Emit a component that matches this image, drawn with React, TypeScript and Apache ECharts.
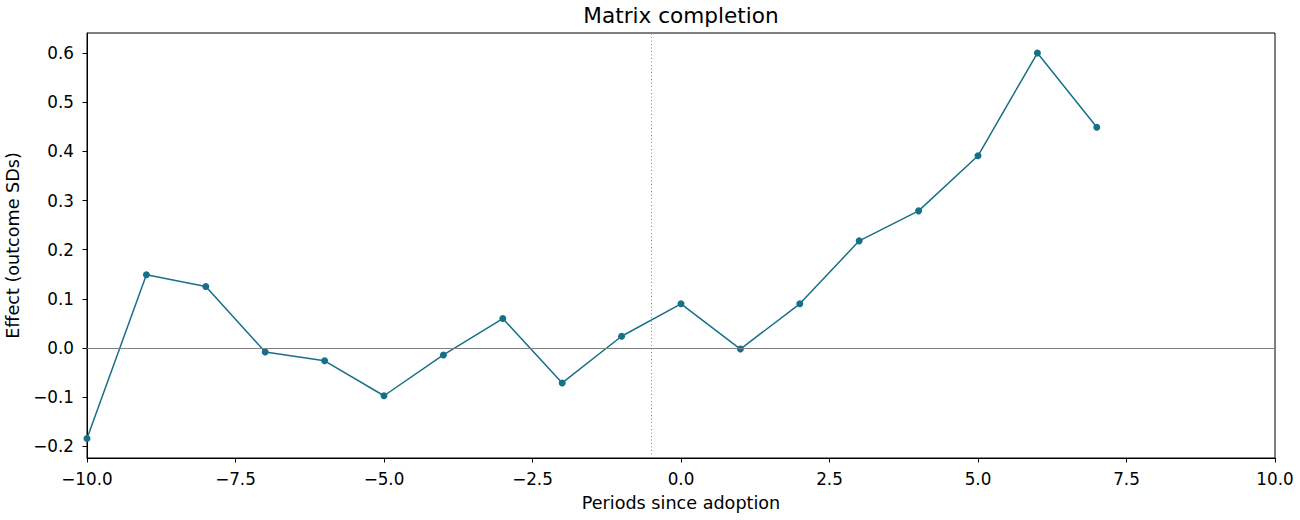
import React, { useEffect, useRef } from "react";
import * as echarts from "echarts";

// Event-study estimates from the matrix completion estimator
const periods = [-10, -9, -8, -7, -6, -5, -4, -3, -2, -1, 0, 1, 2, 3, 4, 5, 6, 7];
const effects = [
  -0.184, 0.149, 0.125, -0.008, -0.026, -0.097, -0.014, 0.06, -0.071, 0.024,
  0.09, -0.002, 0.09, 0.218, 0.279, 0.391, 0.6, 0.449,
];
const xTicks = [-10, -7.5, -5, -2.5, 0, 2.5, 5, 7.5, 10];
const yTicks = [-0.2, -0.1, 0, 0.1, 0.2, 0.3, 0.4, 0.5, 0.6];
const adoptionCutoff = -0.5;

const FONT = "DejaVu Sans";
const LINE = "#17708a";
const TICK_FONT = 16.8;
const NAME_FONT = 17.6;

const fmt = (v: number) => v.toFixed(1).replace("-", "\u2212");

export default function App() {
  const ref = useRef<HTMLDivElement>(null);

  useEffect(() => {
    if (!ref.current) return;
    const chart = echarts.init(ref.current, null, { renderer: "svg" });
    const points = periods.map((p, i) => [p, effects[i]]);

    chart.setOption({
      animation: false,
      backgroundColor: "#ffffff",
      textStyle: { fontFamily: FONT },
      title: {
        text: "Matrix completion",
        left: 681,
        top: 4,
        padding: 0,
        textAlign: "center",
        textStyle: { fontFamily: FONT, fontSize: 21.6, fontWeight: "normal", color: "#000" },
      },
      grid: {
        left: 87,
        right: 25,
        top: 33,
        bottom: 62,
        outerBoundsMode: "none",
        containLabel: false,
        show: true,
        borderColor: "#000",
        borderWidth: 1,
        backgroundColor: "transparent",
      },
      xAxis: {
        type: "value",
        min: -10,
        max: 10,
        name: "Periods since adoption",
        nameLocation: "middle",
        nameGap: 36,
        nameTextStyle: { fontFamily: FONT, fontSize: NAME_FONT, color: "#000" },
        axisLine: { show: true, onZero: false, lineStyle: { color: "#000", width: 1 } },
        axisTick: {
          show: true,
          inside: false,
          length: 4.5,
          customValues: xTicks,
          lineStyle: { color: "#000", width: 1 },
        },
        axisLabel: {
          customValues: xTicks,
          margin: 12,
          fontFamily: FONT,
          fontSize: TICK_FONT,
          color: "#000",
          formatter: fmt,
        },
        splitLine: { show: false },
      },
      yAxis: {
        type: "value",
        min: -0.2236,
        max: 0.6407,
        name: "Effect (outcome SDs)",
        nameLocation: "middle",
        nameGap: 65,
        nameTextStyle: { fontFamily: FONT, fontSize: NAME_FONT, color: "#000" },
        axisLine: { show: true, onZero: false, lineStyle: { color: "#000", width: 1 } },
        axisTick: {
          show: true,
          inside: false,
          length: 4.5,
          customValues: yTicks,
          lineStyle: { color: "#000", width: 1 },
        },
        axisLabel: {
          customValues: yTicks,
          margin: 13,
          fontFamily: FONT,
          fontSize: TICK_FONT,
          color: "#000",
          formatter: fmt,
        },
        splitLine: { show: false },
      },
      series: [
        {
          type: "line",
          data: points,
          symbol: "circle",
          symbolSize: 7,
          showSymbol: true,
          lineStyle: { color: LINE, width: 1.5 },
          itemStyle: { color: LINE },
          z: 3,
          markLine: {
            silent: true,
            symbol: "none",
            label: { show: false },
            animation: false,
            data: [
              { yAxis: 0, lineStyle: { color: "#808080", width: 1, type: "solid" } },
              { xAxis: adoptionCutoff, lineStyle: { color: "#808080", width: 1, type: [1, 2.5] } },
            ],
          },
        },
      ],
    });

    return () => chart.dispose();
  }, []);

  return (
    <div
      ref={ref}
      style={{ position: "absolute", left: 0, top: 0, width: 1300, height: 520 }}
    />
  );
}
